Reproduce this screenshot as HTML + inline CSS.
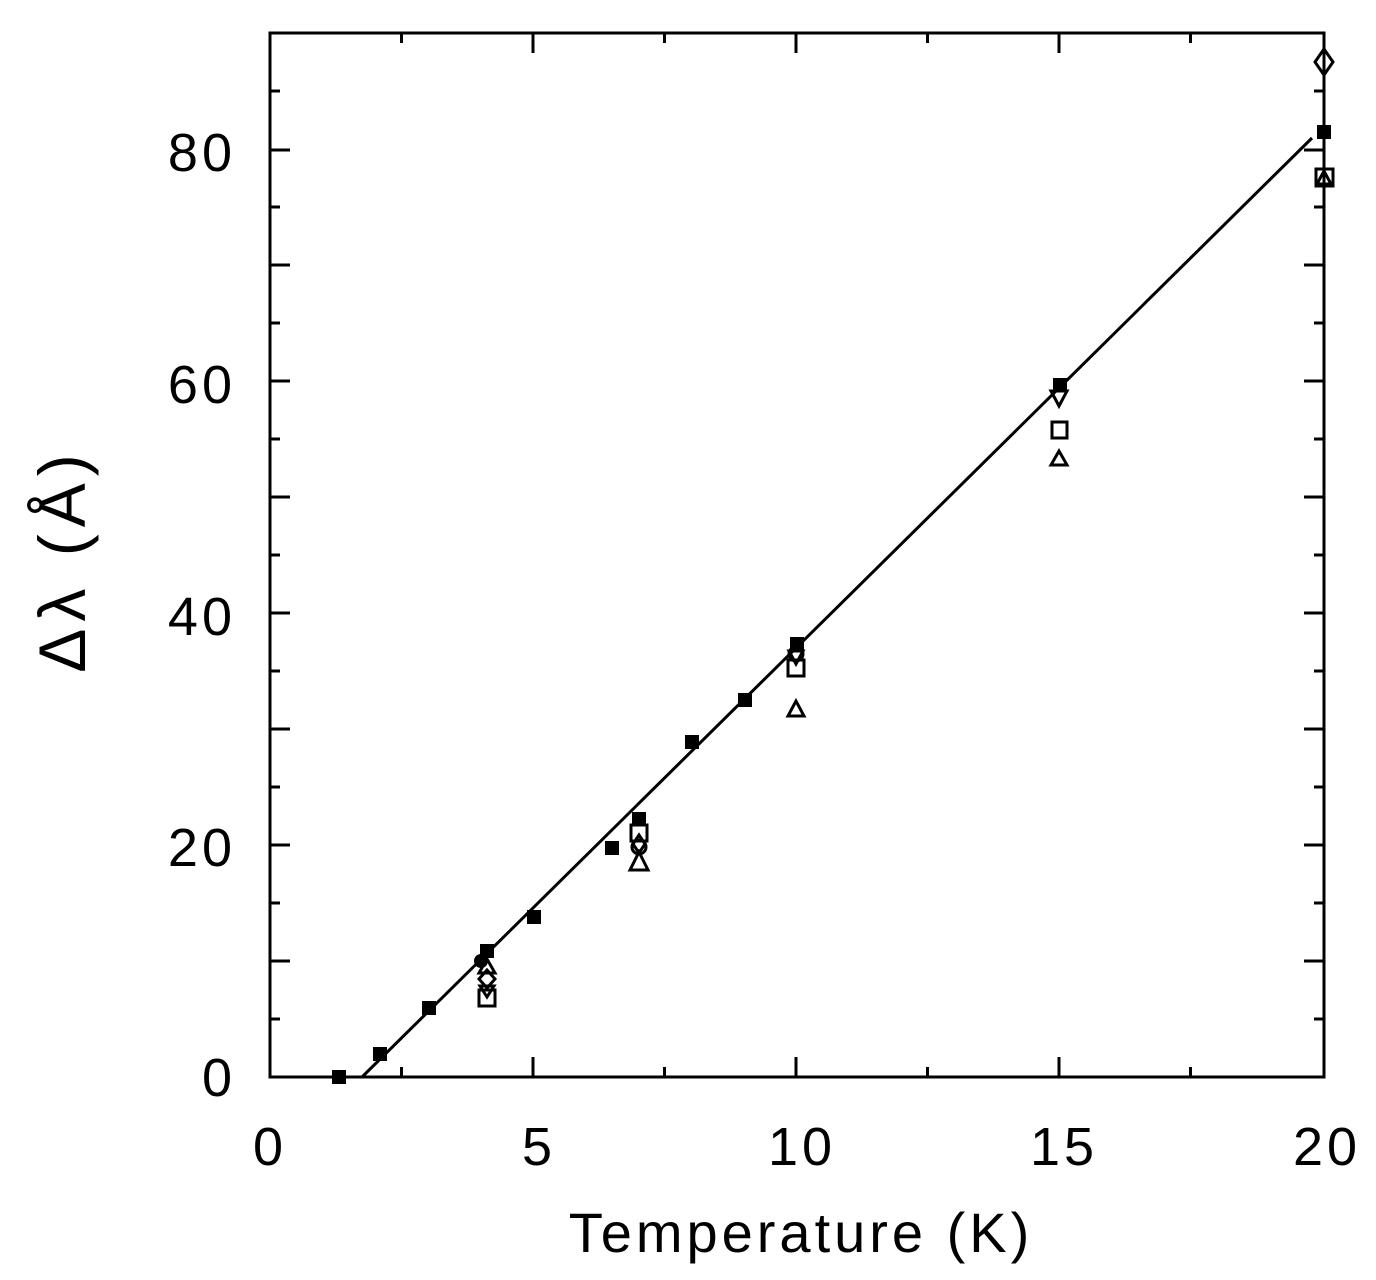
<!DOCTYPE html>
<html><head><style>body{margin:0;background:#fff}svg{display:block}</style></head><body>
<svg width="1376" height="1280" viewBox="0 0 1376 1280" xmlns="http://www.w3.org/2000/svg">
<g stroke="#000" stroke-width="3" fill="none">
<rect x="270" y="33" width="1054" height="1044"/>
<path d="M401.5,1077v-10M533,1077v-20M664.5,1077v-10M796,1077v-20M927.5,1077v-10M1059,1077v-20M1190.5,1077v-10
M401.5,33v10M533,33v20M664.5,33v10M796,33v20M927.5,33v10M1059,33v20M1190.5,33v10"/>
<path d="M270,1019h10M270,961h20M270,903h10M270,845h20M270,787h10M270,729h20M270,671h10M270,613h20M270,555h10M270,497h20M270,439h10M270,381h20M270,323h10M270,265h20M270,207h10M270,150h20M270,91h10
M1324,1019h-10M1324,961h-20M1324,903h-10M1324,845h-20M1324,787h-10M1324,729h-20M1324,671h-10M1324,613h-20M1324,555h-10M1324,497h-20M1324,439h-10M1324,381h-20M1324,323h-10M1324,265h-20M1324,207h-10M1324,150h-20M1324,91h-10"/>
<path d="M362,1077L1312,138" stroke-width="3"/>
</g>
<g fill="#000">
<rect x="332" y="1070" width="14" height="14"/>
<rect x="373" y="1047" width="14" height="14"/>
<rect x="422" y="1001" width="14" height="14"/>
<circle cx="481" cy="961" r="7"/>
<rect x="480" y="944" width="14" height="14"/>
<rect x="527" y="910" width="14" height="14"/>
<rect x="605" y="841" width="14" height="14"/>
<rect x="632" y="812" width="14" height="14"/>
<rect x="685" y="735" width="14" height="14"/>
<rect x="738" y="693" width="14" height="14"/>
<rect x="790" y="637" width="14" height="14"/>
<rect x="1053" y="378" width="14" height="14"/>
<rect x="1317" y="125" width="14" height="14"/>
</g>
<g fill="none" stroke="#000" stroke-width="3">
<rect x="479" y="990" width="16" height="16"/>
<path d="M487,970l-8,9l8,9l8-9z"/>
<path d="M487,959l-8,14h16z"/>
<path d="M480,986h14l-7,11z"/>
<rect x="631" y="825" width="16" height="16"/>
<circle cx="639" cy="847" r="7"/>
<path d="M639,852l-9,18h18z"/>
<path d="M639,835l-6,9l6,9l6-9z"/>
<rect x="788" y="660" width="16" height="16"/>
<circle cx="796" cy="654" r="7"/>
<path d="M789,651h14l-7,13z"/>
<path d="M796,701l-8,15h16z"/>
<path d="M1051,391h16l-8,15z"/>
<rect x="1052" y="422" width="15" height="16"/>
<path d="M1059,451l-8,14h16z"/>
<path d="M1324,49l-9,13l9,13l9-13z"/>
<rect x="1316" y="169" width="17" height="17"/>
<path d="M1324,171l-7,13h14z"/>
</g>
<g font-family="Liberation Sans, sans-serif" font-size="54" fill="#000" text-anchor="middle" letter-spacing="4">
<text x="270" y="1165">0</text>
<text x="539" y="1165">5</text>
<text x="802" y="1165">10</text>
<text x="1064" y="1165">15</text>
<text x="1327" y="1165">20</text>
<text x="801" y="1252" font-size="56" letter-spacing="4">Temperature (K)</text>
<g text-anchor="end">
<text x="236" y="1096">0</text>
<text x="236" y="866">20</text>
<text x="236" y="635">40</text>
<text x="236" y="403">60</text>
<text x="236" y="171">80</text>
</g>
<text transform="translate(85,560) rotate(-90)" font-size="66" letter-spacing="7">Δλ (Å)</text>
</g>
</svg>
</body></html>
